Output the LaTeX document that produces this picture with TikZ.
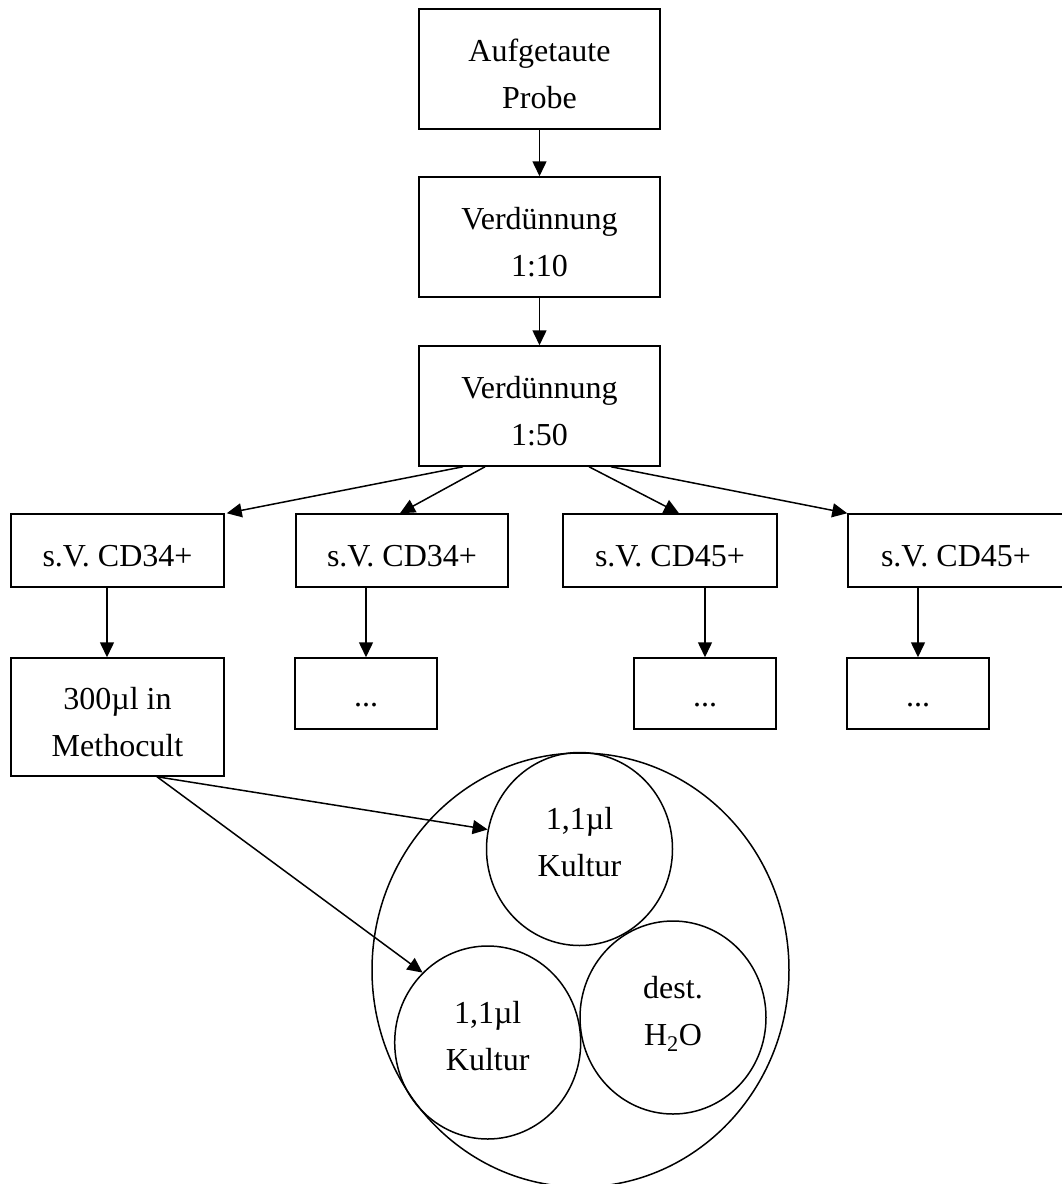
\documentclass[tikz,border=0pt]{standalone}
\usepackage{fontspec}
\setmainfont{Liberation Serif}
\usetikzlibrary{arrows.meta,shapes.geometric}
\newcommand{\hs}{\rule{0pt}{32.5pt}}
\newcommand{\oneup}{\rule{0pt}{33pt}}
\newcommand{\dotsup}{\rule{0pt}{27pt}}
\newcommand{\cdn}{\rule[-14pt]{0pt}{14pt}}
\begin{document}
\begin{tikzpicture}[x=1pt,y=-1pt,
  every node/.style={font=\fontsize{32}{47}\selectfont, align=center, inner sep=0pt},
  box/.style={draw, line width=1.5pt, rectangle},
  ell/.style={draw, line width=1.5pt, ellipse, minimum width=186pt, minimum height=193pt},
  arr/.style={line width=1.5pt, -{Triangle[length=15pt,width=14pt]}}]
\useasboundingbox (0,0) rectangle (1062,1184);
\clip (0,0) rectangle (1062,1184);
% top chain
\node[box, minimum width=241pt, minimum height=120pt] (p) at (539.5,69) {\hs Aufgetaute\\Probe};
\node[box, minimum width=241pt, minimum height=120pt] (v10) at (539.5,237) {\hs Verdünnung\\1:10};
\node[box, minimum width=241pt, minimum height=120pt] (v50) at (539.5,406) {\hs Verdünnung\\1:50};
% second row
\node[box, minimum width=213pt, minimum height=73pt] (s1) at (117.5,550.5) {\oneup s.V. CD34+};
\node[box, minimum width=212pt, minimum height=73pt] (s2) at (402,550.5) {\oneup s.V. CD34+};
\node[box, minimum width=214pt, minimum height=73pt] (s3) at (670,550.5) {\oneup s.V. CD45+};
\node[box, minimum width=216pt, minimum height=73pt] (s4) at (956,550.5) {\oneup s.V. CD45+};
% third row
\node[box, minimum width=213pt, minimum height=118pt] (m) at (117.5,717) {\hs 300µl in\\Methocult};
\node[box, minimum width=142pt, minimum height=71pt] (d2) at (366,693.5) {\dotsup ...};
\node[box, minimum width=142pt, minimum height=71pt] (d3) at (705,693.5) {\dotsup ...};
\node[box, minimum width=142pt, minimum height=71pt] (d4) at (918,693.5) {\dotsup ...};
% dish
\node[draw, line width=1.5pt, ellipse, minimum width=417pt, minimum height=434pt] (dish) at (580.5,970) {};
\node[ell] (c1) at (579.5,849) {1,1µl\\Kultur\cdn};
\node[ell] (c2) at (487.7,1042.5) {1,1µl\\Kultur\cdn};
\node[ell] (c3) at (673,1017.5) {dest.\\H\textsubscript{2}O\cdn};
% arrows
\draw[arr] (p) -- (v10);
\draw[arr] (v10) -- (v50);
\draw[arr] ([xshift=-76.5pt]v50.south) -- ([xshift=2pt]s1.north east);
\draw[arr] ([xshift=-54.5pt]v50.south) -- ([xshift=-2pt]s2.north);
\draw[arr] ([xshift=49.5pt]v50.south) -- ([xshift=9pt]s3.north);
\draw[arr] ([xshift=71.5pt]v50.south) -- (s4.north west);
\draw[arr] ([xshift=-10.5pt]s1.south) -- ([xshift=-10.5pt]m.north);
\draw[arr] (s2.south -| d2.north) -- (d2.north);
\draw[arr] (s3.south -| d3.north) -- (d3.north);
\draw[arr] (s4.south -| d4.north) -- (d4.north);
\draw[arr] ([xshift=39.5pt]m.south) -- (c1.168);
\draw[arr] ([xshift=39.5pt]m.south) -- (c2.133);
\end{tikzpicture}
\end{document}
